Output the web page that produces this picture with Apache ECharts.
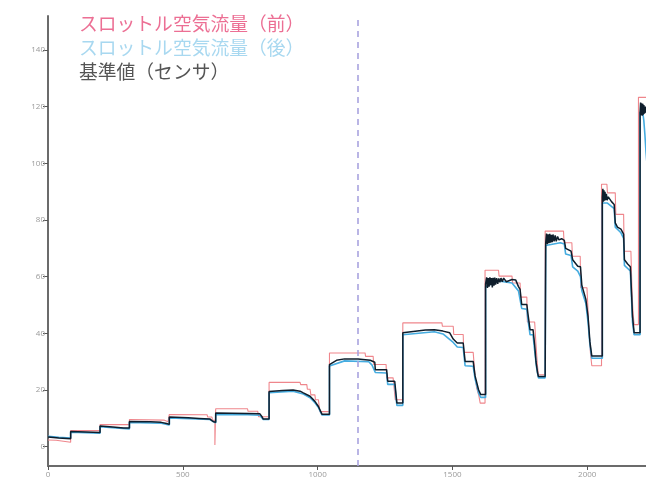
<!DOCTYPE html>
<html>
<head>
<meta charset="utf-8">
<style>
  html, body { margin: 0; padding: 0; background: #fff; }
  #chart { width: 646px; height: 478px; }
</style>
<script src="https://cdn.jsdelivr.net/npm/echarts@6/dist/echarts.min.js"></script>
</head>
<body>
<div id="chart"></div>
<script>
// Series names (legend text)
const seriesNames = ['スロットル空気流量（前）', 'スロットル空気流量（後）', '基準値（センサ）'];

// Tick values shown on each axis
const yTicks = [0, 20, 40, 60, 80, 100, 120, 140];
const xTicks = [0, 500, 1000, 1500, 2000];

// Time index of the vertical reference marker
const markerX = 1150;

// Throttle air flow before correction: [time, value]
const throttleFront = [
  [0,2.4],[30,2.3],[32,1.6],[84,1.6],
  [84,5.7],[193,5.7],
  [193,7.8],[302,7.8],
  [302,9.6],[430,9.4],[445,8.8],[450,8.8],
  [450,11.4],[590,11.3],[592,10.5],[608,10.5],[610,9.3],[619,9.3],[619,0.6],[622,0.6],
  [622,13.4],[740,13.4],[742,12.5],[778,12.5],[781,10.6],[820,10.6],
  [820,22.7],[935,22.7],[937,21.9],[960,21.9],[962,20.3],[972,20.3],[975,18.3],[990,18.3],[992,16.6],[1003,16.6],[1008,12.4],[1044,12.4],
  [1044,33.1],[1176,33.1],[1178,31.9],[1206,31.9],[1208,29.0],[1254,29.0],[1256,24.3],[1280,24.3],[1288,16.6],[1316,16.6],
  [1316,43.7],[1461,43.7],[1463,42.5],[1503,42.5],[1505,39.6],[1540,39.6],[1542,33.3],[1577,33.3],[1584,24.9],[1590,20.7],[1598,18.0],[1603,15.4],[1621,15.4],
  [1621,62.3],[1671,62.3],[1673,60.2],[1721,60.2],[1723,57.8],[1751,57.8],[1753,52.8],[1776,52.8],[1778,44.0],[1805,44.0],[1810,36.0],[1815,29.0],[1819,25.4],[1844,25.4],
  [1844,76.1],[1912,76.1],[1914,72.0],[1943,72.0],[1945,67.2],[1974,67.2],[1976,56.1],[1999,56.1],[2006,42.0],[2012,33.0],[2017,28.6],[2053,28.6],
  [2053,92.6],[2073,92.6],[2075,89.6],[2104,89.6],[2106,82.0],[2135,82.0],[2137,69.0],[2162,69.0],[2166,55.0],[2170,47.0],[2174,43.1],[2190,43.1],
  [2190,123.3],[2230,123.3]
];

// Throttle air flow after correction: [time, value]
const throttleRear = [
  [0,3.7],[40,3.3],[84,3.1],
  [84,5.1],[193,4.8],
  [193,7.1],[240,6.7],[302,6.3],
  [302,8.6],[420,8.3],[450,7.7],
  [450,10.2],[600,9.6],[622,8.4],
  [622,11.4],[740,11.3],[786,11.1],[798,9.6],[820,9.6],
  [820,19.1],[909,19.6],[947,18.6],[972,17.3],[990,15.5],[1003,13.8],[1016,11.2],[1044,11.2],
  [1044,28.5],[1100,30.3],[1190,30.0],[1202,28.8],[1214,26.2],[1256,26.0],[1260,22.0],[1286,22.0],[1294,14.6],[1316,14.6],
  [1316,39.5],[1433,40.6],[1465,39.8],[1503,36.8],[1518,35.2],[1540,35.0],[1547,28.6],[1577,28.4],[1584,24.0],[1597,19.0],[1605,17.4],[1623,17.4],
  [1623,56.5],[1671,58.5],[1721,57.8],[1745,55.0],[1757,48.8],[1776,48.5],[1780,45.0],[1788,39.5],[1799,39.5],[1805,34.0],[1812,28.0],[1819,24.3],[1844,24.3],
  [1846,71.0],[1900,72.0],[1915,71.5],[1920,68.0],[1940,67.5],[1946,63.5],[1965,62.0],[1975,60.0],[1980,55.0],[1995,50.5],[2003,44.0],[2010,36.0],[2017,31.2],[2056,31.2],
  [2056,86.0],[2075,86.0],[2100,84.0],[2104,77.5],[2125,75.5],[2135,73.5],[2138,64.0],[2160,62.0],[2164,53.0],[2168,44.0],[2174,39.5],[2196,39.5],
  [2196,118.0],[2206,118.0],[2210,115.0],[2214,110.0],[2218,104.0],[2225,96.0]
];

// Sensor reference value: [time, value]
const sensorBase = [
  [0,3.4],[40,3.1],[84,2.8],
  [84,5.4],[140,5.2],[193,5.0],
  [193,7.3],[240,7.0],[280,6.6],[302,6.6],
  [302,8.9],[380,8.8],[420,8.6],[440,8.2],[450,7.9],
  [450,10.5],[520,10.2],[560,10.0],[600,9.8],[612,8.9],[622,8.6],
  [622,11.9],[680,11.8],[740,11.7],[786,11.6],[793,10.7],[798,9.8],[820,9.8],
  [820,19.5],[870,19.8],[909,20.0],[935,19.6],[947,19.0],[972,17.8],[990,16.0],[1003,14.2],[1016,11.5],[1044,11.5],
  [1044,29.0],[1070,30.5],[1100,31.0],[1150,31.0],[1195,30.5],[1202,29.8],[1212,29.8],[1214,27.2],[1256,27.2],[1260,23.1],[1286,23.1],[1294,15.4],[1316,15.4],
  [1316,40.2],[1400,41.2],[1433,41.3],[1465,40.8],[1490,40.2],[1503,38.0],[1518,36.6],[1540,36.6],[1547,30.1],[1577,30.1],[1584,25.0],[1597,20.1],[1605,18.4],[1623,18.4],
  [1623,57.5],[1627,59.8],[1630,56.0],[1633,59.5],[1636,56.5],[1639,59.8],[1642,57.0],[1645,59.5],[1648,56.2],[1651,59.6],[1654,56.8],[1657,59.7],[1660,57.2],[1664,59.5],[1668,57.5],[1672,59.4],[1676,58.0],[1680,59.5],[1685,58.2],[1690,59.5],[1700,58.2],[1721,59.0],[1735,58.8],[1745,56.5],[1751,55.5],[1757,50.2],[1776,50.2],[1780,47.0],[1788,41.3],[1799,41.3],[1805,36.0],[1810,30.0],[1816,26.0],[1819,24.8],[1844,24.8],
  [1846,72.0],[1849,75.2],[1852,71.5],[1855,75.0],[1858,71.8],[1861,75.1],[1864,72.0],[1867,74.8],[1870,72.2],[1873,74.9],[1877,72.5],[1881,74.6],[1885,72.5],[1890,74.2],[1895,73.0],[1905,73.4],[1915,72.8],[1920,70.0],[1940,69.0],[1946,66.0],[1965,63.7],[1975,63.5],[1980,57.0],[1995,52.0],[2003,46.0],[2010,37.0],[2017,32.0],[2056,32.0],
  [2056,88.0],[2058,91.0],[2060,86.5],[2062,90.5],[2064,86.8],[2066,90.0],[2068,87.0],[2071,89.2],[2074,87.0],[2078,88.2],[2090,86.5],[2100,85.5],[2104,79.0],[2112,77.5],[2125,76.8],[2135,75.0],[2138,66.0],[2150,64.5],[2160,63.5],[2164,55.0],[2168,46.0],[2174,40.2],[2196,40.2],
  [2196,118.0],[2198,121.5],[2200,117.0],[2202,121.2],[2204,116.8],[2206,121.0],[2208,117.2],[2210,120.6],[2212,117.5],[2215,120.0],[2218,118.0],[2225,118.0]
];

const lineColors = ['#ef868c', '#45ace0', '#0f1e2c'];
const legendColors = ['#ec6f94', '#a8d8f0', '#555555'];

const chart = echarts.init(document.getElementById('chart'), null, { renderer: 'canvas' });

const axisFont = { fontSize: 8, color: '#9a9a9a', fontFamily: 'Open Sans' };

chart.setOption({
  animation: false,
  backgroundColor: '#ffffff',
  grid: { left: 48, right: 0, top: 16, bottom: 12, containLabel: false, outerBoundsMode: 'none' },
  legend: {
    orient: 'vertical',
    left: 69,
    top: 7,
    itemWidth: 0,
    itemHeight: 0,
    itemGap: 0,
    icon: 'rect',
    itemStyle: { opacity: 0 },
    lineStyle: { opacity: 0 },
    textStyle: { fontSize: 18.8, lineHeight: 24, fontFamily: 'Noto Sans CJK JP', padding: [0, 0, 0, 0] },
    selectedMode: false,
    data: seriesNames.map((n, i) => ({ name: n, textStyle: { color: legendColors[i] } }))
  },
  xAxis: {
    type: 'value',
    min: 0,
    max: 2218,
    splitLine: { show: false },
    axisLine: { onZero: false, lineStyle: { color: '#6b6b6b', width: 2 } },
    axisTick: { length: 4, lineStyle: { color: '#555', width: 1 }, customValues: xTicks },
    axisLabel: Object.assign({ margin: 5, customValues: xTicks, formatter: v => String(v) }, axisFont)
  },
  yAxis: {
    type: 'value',
    min: -6.8,
    max: 152,
    splitLine: { show: false },
    axisLine: { show: true, lineStyle: { color: '#6b6b6b', width: 2 } },
    axisTick: { show: true, length: 5, lineStyle: { color: '#555', width: 1 }, customValues: yTicks },
    axisLabel: Object.assign({ margin: 3, customValues: yTicks, formatter: v => String(v) }, axisFont)
  },
  series: [
    {
      name: seriesNames[0],
      type: 'line',
      data: throttleFront,
      showSymbol: false,
      lineStyle: { color: lineColors[0], width: 1.1 },
      itemStyle: { color: lineColors[0] },
      z: 2,
      markLine: {
        silent: true,
        symbol: ['none', 'none'],
        label: { show: false },
        lineStyle: { color: '#a9a3df', type: [6, 5], width: 1.6 },
        data: [{ xAxis: markerX }]
      }
    },
    {
      name: seriesNames[1],
      type: 'line',
      data: throttleRear,
      showSymbol: false,
      lineStyle: { color: lineColors[1], width: 1.6 },
      itemStyle: { color: lineColors[1] },
      z: 3
    },
    {
      name: seriesNames[2],
      type: 'line',
      data: sensorBase,
      showSymbol: false,
      lineStyle: { color: lineColors[2], width: 1.5 },
      itemStyle: { color: lineColors[2] },
      z: 4
    }
  ]
});
</script>
</body>
</html>
